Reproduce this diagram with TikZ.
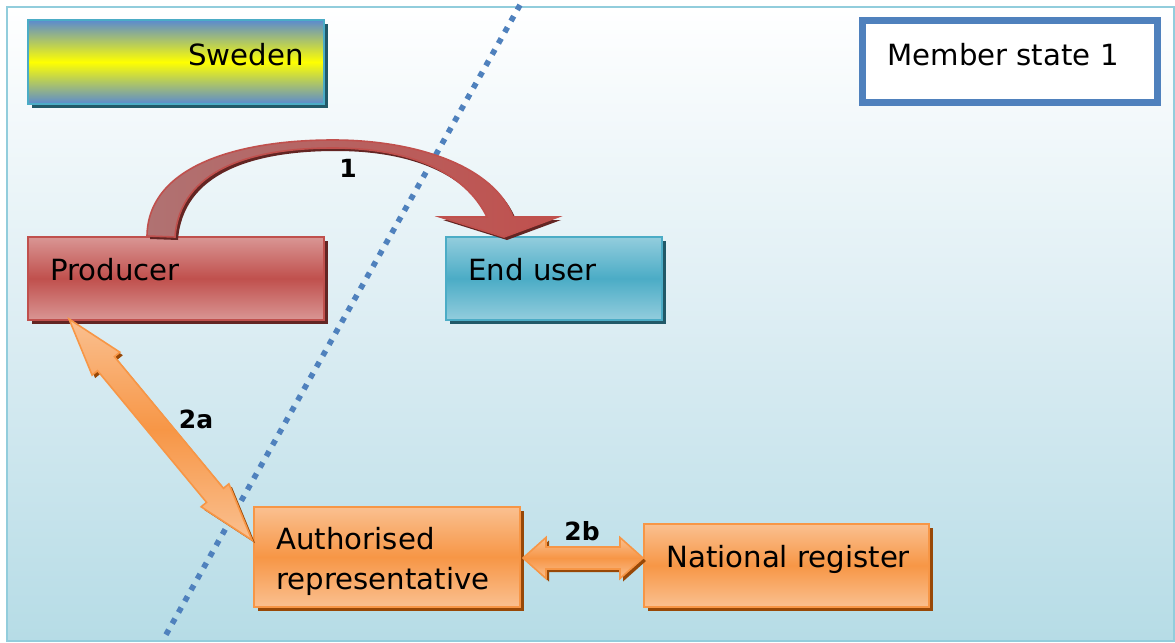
\documentclass[tikz,border=0pt]{standalone}
\usepackage{fontspec}
\setmainfont{DejaVu Sans}
\usetikzlibrary{positioning,calc,shadows}

\definecolor{framecol}{HTML}{92CDDC}
\definecolor{bgmid}{HTML}{DCEDF3}
\definecolor{bgblue}{HTML}{B6DCE6}
\definecolor{swblue}{HTML}{5A8AD0}
\definecolor{swborder}{HTML}{4BACC6}
\definecolor{tealshadow}{HTML}{215968}
\definecolor{msblue}{HTML}{4F81BD}
\definecolor{redlight}{HTML}{D99694}
\definecolor{redmid}{HTML}{C0504D}
\definecolor{redshadow}{HTML}{632523}
\definecolor{arcleft}{HTML}{B07272}
\definecolor{bluelight}{HTML}{93CDDD}
\definecolor{bluemid}{HTML}{4BACC6}
\definecolor{orlight}{HTML}{FAC090}
\definecolor{ormid}{HTML}{F79646}
\definecolor{orshadow}{HTML}{984807}

% fat double arrow: style, from, to, half shaft, half head, head length
\newcommand{\fatdarrow}[6]{%
  \path[#1] (#2) -- ($(#2)!#6!(#3)!#5!90:(#3)$) -- ($(#2)!#6!(#3)!#4!90:(#3)$)
    -- ($(#3)!#6!(#2)!#4!-90:(#2)$) -- ($(#3)!#6!(#2)!#5!-90:(#2)$) -- (#3)
    -- ($(#3)!#6!(#2)!#5!90:(#2)$) -- ($(#3)!#6!(#2)!#4!90:(#2)$)
    -- ($(#2)!#6!(#3)!#4!-90:(#3)$) -- ($(#2)!#6!(#3)!#5!-90:(#3)$) -- cycle;}

\tikzset{
  box/.style={rectangle, inner sep=0pt, line width=1pt},
  swedenbox/.style={box, draw=swborder, top color=swblue, bottom color=swblue, middle color=yellow,
    drop shadow={shadow xshift=2pt, shadow yshift=-2pt, opacity=1, fill=tealshadow}},
  redbox/.style={box, draw=redmid, top color=redlight, bottom color=redlight, middle color=redmid,
    drop shadow={shadow xshift=2pt, shadow yshift=-2pt, opacity=1, fill=redshadow}},
  bluebox/.style={box, draw=bluemid, top color=bluelight, bottom color=bluelight, middle color=bluemid,
    drop shadow={shadow xshift=2pt, shadow yshift=-2pt, opacity=1, fill=tealshadow}},
  orbox/.style={box, draw=ormid, top color=orlight, bottom color=orlight, middle color=ormid,
    drop shadow={shadow xshift=2pt, shadow yshift=-2pt, opacity=1, fill=orshadow}},
  orarrow/.style={draw=ormid, line width=0.8pt, top color=orlight, bottom color=orlight, middle color=ormid,
    drop shadow={shadow xshift=1.5pt, shadow yshift=-1.5pt, opacity=1, fill=orshadow}},
  redarrow/.style={draw=redmid, line width=0.8pt, left color=arcleft, right color=redmid,
    drop shadow={shadow xshift=1.5pt, shadow yshift=-1.5pt, opacity=1, fill=redshadow}},
  txt/.style={anchor=base west, inner sep=0pt, font=\fontsize{14.6}{20}\selectfont},
  numlbl/.style={anchor=base, inner sep=0pt, font=\fontsize{12.5}{15}\selectfont\bfseries}
}

\begin{document}
\begin{tikzpicture}[x=0.5pt, y=-0.5pt]
\useasboundingbox (0,0) rectangle (1175,643);

% frame
\path[draw=framecol, line width=1pt, top color=white, bottom color=bgblue, middle color=bgmid]
  (7,7) rectangle (1174,641);

% border between countries
\coordinate (bordtop) at (520,5);
\coordinate (bordbot) at (163,640);
\draw[msblue, line width=2.8pt, dash pattern=on 2.8pt off 3.6pt] (bordtop) -- (bordbot);

% countries
\node[swedenbox, minimum width=148pt, minimum height=42pt] (sweden) at (176,62) {};
\node[txt] (sweden-t) at (188,65) {Sweden};

\node[box, draw=msblue, line width=3.5pt, fill=white, minimum width=147.5pt, minimum height=41pt] (member) at (1010,61.5) {};
\node[txt] (member-t) at (887,65) {Member state 1};

% actors
\node[redbox, minimum width=148pt, minimum height=41.5pt] (prod) at (176,278.5) {};
\node[txt] (prod-t) at (50,280) {Producer};

\node[bluebox, minimum width=108pt, minimum height=41.5pt] (enduser) at (554,278.5) {};
\node[txt] (enduser-t) at (468,280) {End user};

\node[orbox, minimum width=133pt, minimum height=50pt] (auth) at (387,557) {};
\node[txt, align=left] (auth-t) at (276,589) {Authorised\\representative};

\node[orbox, minimum width=142.5pt, minimum height=41.5pt] (natreg) at (786.5,565.5) {};
\node[txt] (natreg-t) at (666,567) {National register};

% arrow 1
\coordinate (s1) at ($(prod.north west)+(120,0)$);
\coordinate (t1) at ($(enduser.north west)+(59,1)$);
\path[redarrow] (s1) .. controls (148,165) and (240,140) .. (333,140)
  .. controls (420,140) and (495,168) .. (513,217) -- (558,217) -- (t1) -- (440,217) -- (487,217)
  .. controls (465,172) and (410,148) .. (333,148)
  .. controls (250,148) and (180,170) .. (175,237) -- cycle;
\node[numlbl] (lbl1) at (348,177) {1};

% arrow 2a
\coordinate (a2a) at ($(prod.south west)+(42,-2)$);
\coordinate (b2a) at ($(auth.north west)+(-1,34)$);
\fatdarrow{orarrow}{a2a}{b2a}{5.5pt}{9pt}{29pt}
\node[numlbl] (lbl2a) at (196,428) {2a};

% arrow 2b
\coordinate (a2b) at ($(auth.east)+(2,1)$);
\coordinate (b2b) at (natreg.west |- a2b);
\fatdarrow{orarrow}{a2b}{b2b}{5.5pt}{10.25pt}{11.5pt}
\node[numlbl] (lbl2b) at (582,540) {2b};

\end{tikzpicture}
\end{document}
